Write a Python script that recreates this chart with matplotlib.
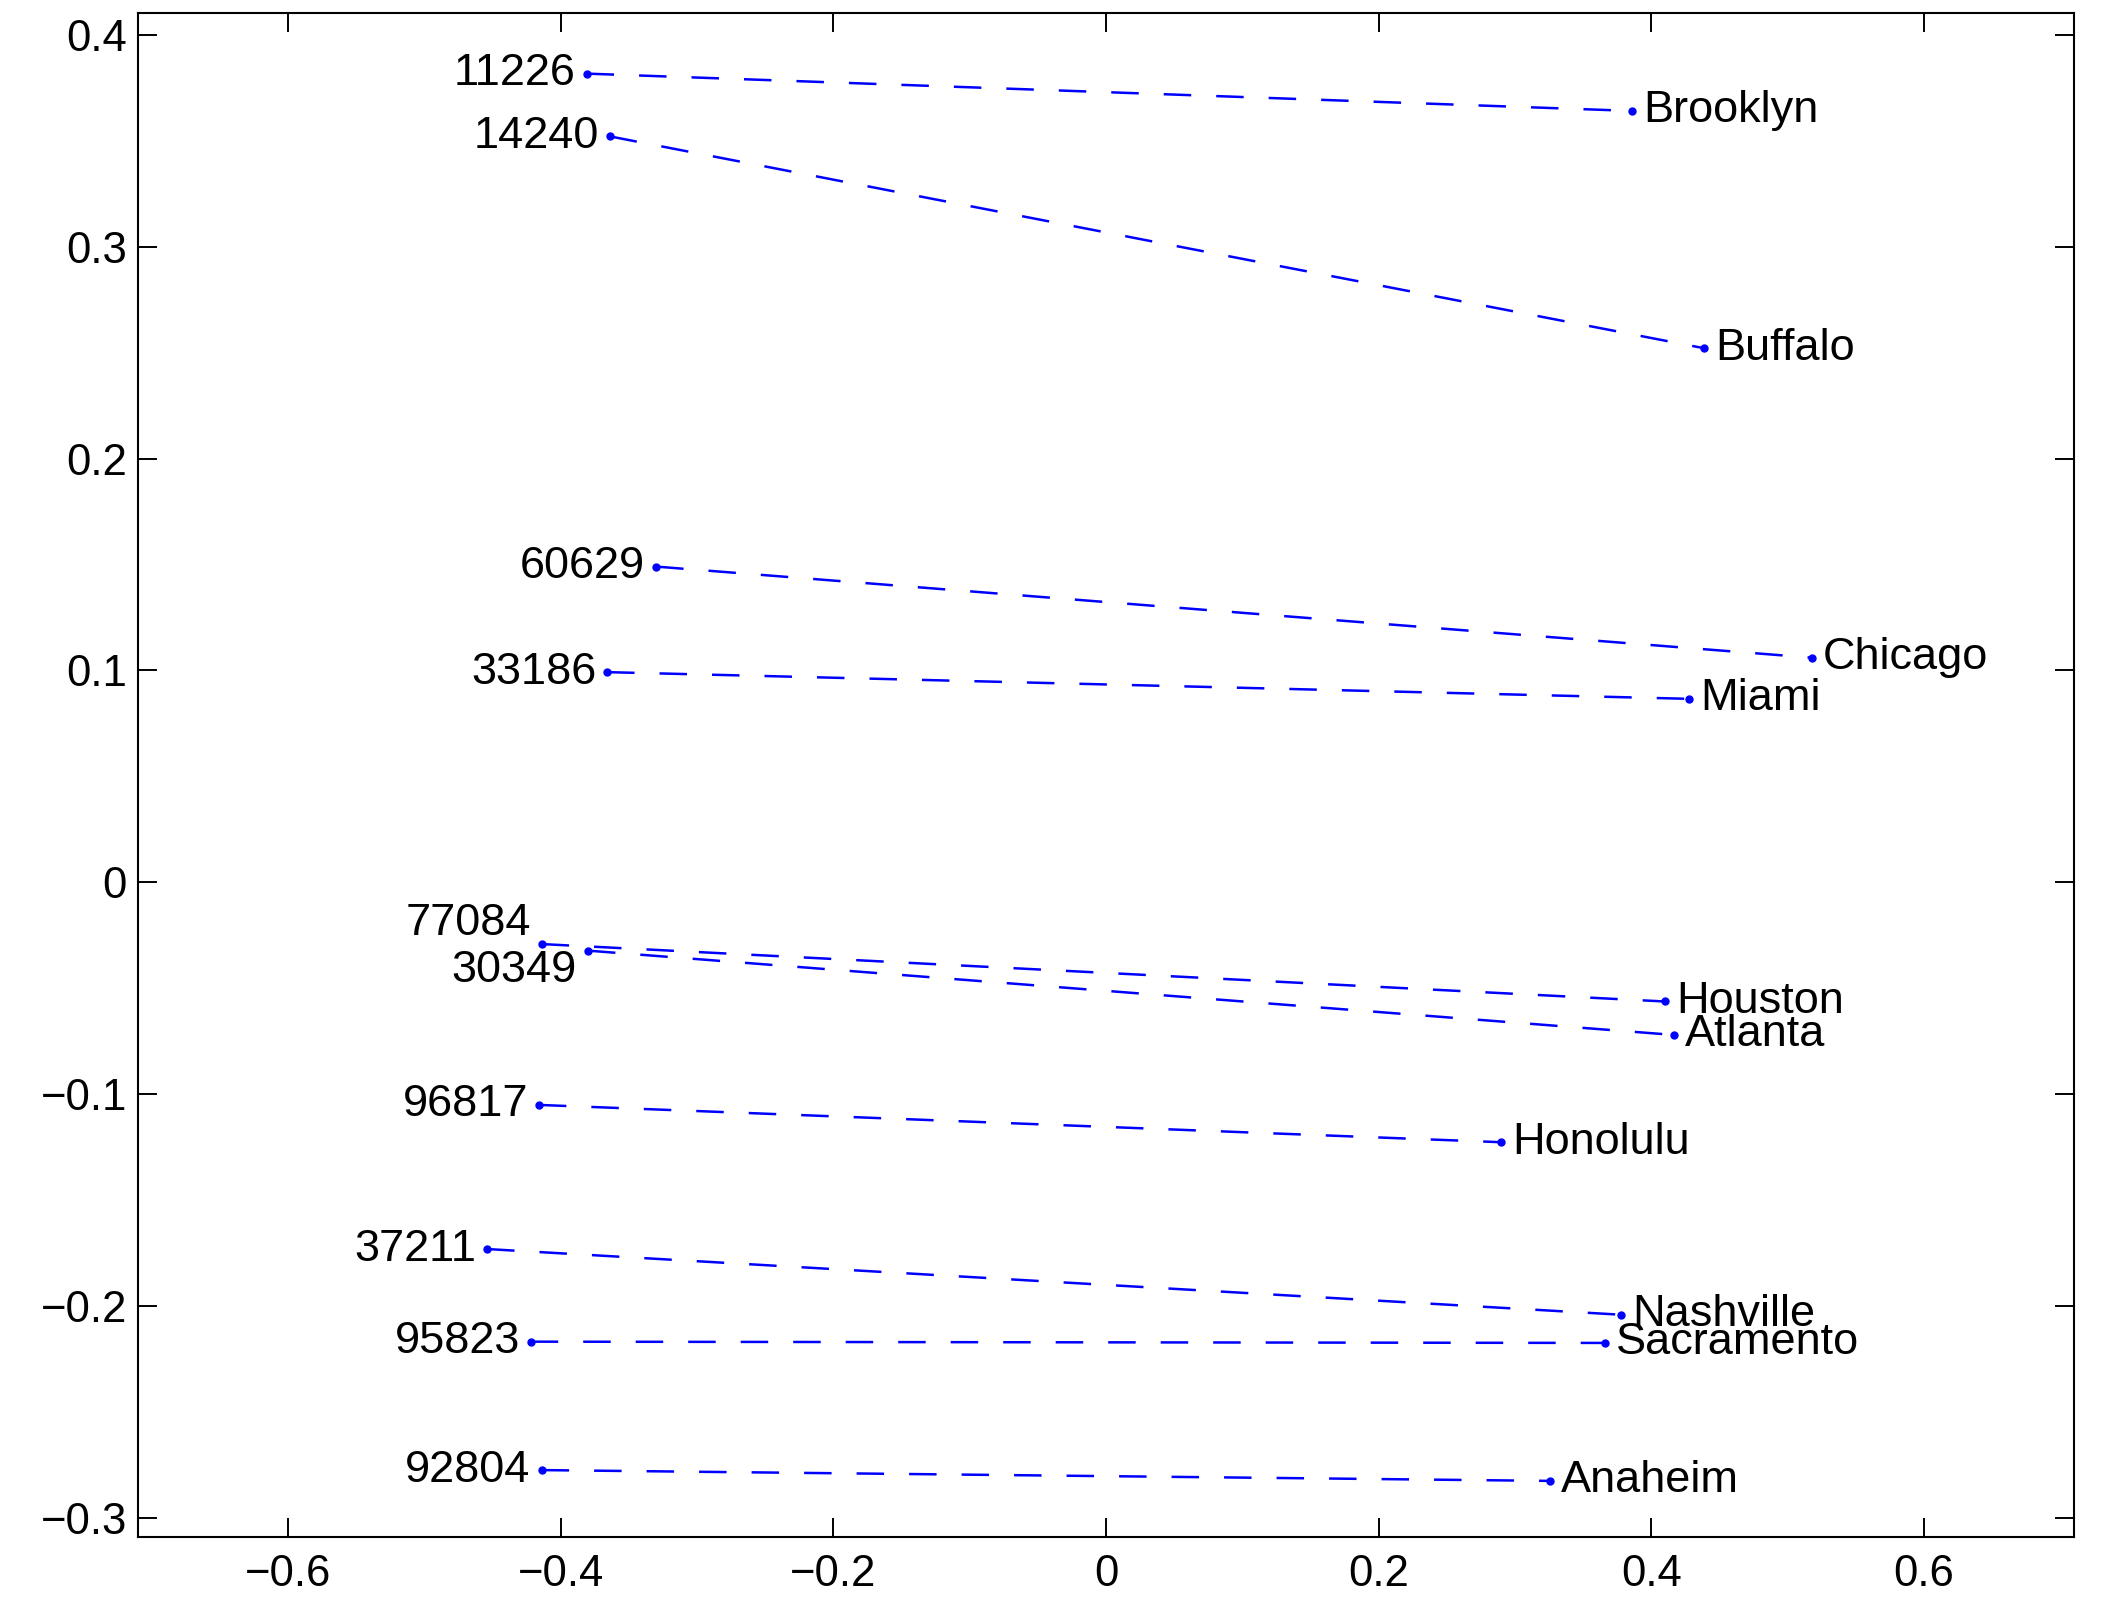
import matplotlib
matplotlib.use("Agg")
import matplotlib.pyplot as plt

# zip code end of each pair
zips = ["11226", "14240", "60629", "33186", "77084", "30349",
        "96817", "37211", "95823", "92804"]
zip_x = [-0.381, -0.364, -0.330, -0.366, -0.414, -0.380,
         -0.416, -0.454, -0.422, -0.414]
zip_y = [0.3816, 0.352, 0.149, 0.0992, -0.0291, -0.0322,
         -0.105, -0.173, -0.2167, -0.2773]

# city end of each pair
cities = ["Brooklyn", "Buffalo", "Chicago", "Miami", "Houston", "Atlanta",
          "Honolulu", "Nashville", "Sacramento", "Anaheim"]
city_x = [0.386, 0.439, 0.518, 0.428, 0.410, 0.417,
          0.290, 0.378, 0.366, 0.326]
city_y = [0.364, 0.252, 0.106, 0.0866, -0.0562, -0.0720,
          -0.1226, -0.204, -0.2173, -0.2824]

xticks = [-0.6, -0.4, -0.2, 0, 0.2, 0.4, 0.6]
yticks = [-0.3, -0.2, -0.1, 0, 0.1, 0.2, 0.3, 0.4]

plt.rcParams['font.family'] = ['Liberation Sans', 'DejaVu Sans']

def fmt(t):
    return ("%g" % t).replace("-", "\u2212")

fig = plt.figure(figsize=(21.02, 15.99), dpi=100)
ax = fig.add_axes([0.0657, 0.0386, 0.9209, 0.953])

for i in range(len(zips)):
    ax.plot([zip_x[i], city_x[i]], [zip_y[i], city_y[i]],
            color='#0000ff', lw=1.8, linestyle=(0, (11, 10)))
    ax.plot([zip_x[i], city_x[i]], [zip_y[i], city_y[i]],
            linestyle='None', marker='o', ms=5, color='#0000ff')

# small vertical nudges for the crowded labels
zip_dy = {"77084": 0.0095, "30349": -0.0095}
for z, x, y in zip(zips, zip_x, zip_y):
    ax.text(x - 0.008, y + zip_dy.get(z, 0), z, ha='right', va='center',
            fontsize=32.5)
for c, x, y in zip(cities, city_x, city_y):
    ax.text(x + 0.008, y, c, ha='left', va='center', fontsize=32.5)

ax.set_xlim(-0.71, 0.71)
ax.set_ylim(-0.309, 0.41)
ax.set_xticks(xticks)
ax.set_yticks(yticks)
ax.set_xticklabels([fmt(t) for t in xticks])
ax.set_yticklabels([fmt(t) for t in yticks])
ax.tick_params(direction='in', length=14, width=1.4, top=True, right=True,
               labelsize=31.5)
ax.tick_params(axis='x', pad=12)
ax.tick_params(axis='y', pad=8)
for s in ax.spines.values():
    s.set_linewidth(1.5)

fig.savefig("out.png", dpi=100)
